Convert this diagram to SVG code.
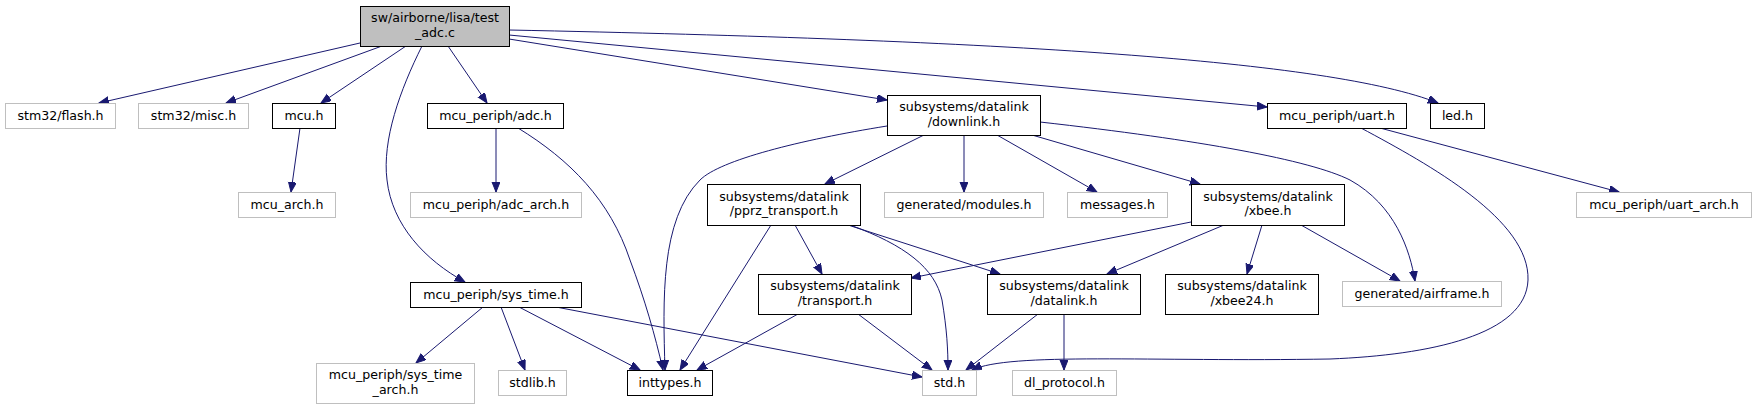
<svg xmlns="http://www.w3.org/2000/svg" width="1757" height="409" viewBox="0 0 1757 409">
<style>
.n rect{fill:#fff;stroke:#000;stroke-width:1}
.n.g rect{stroke:#bfbfbf}
.n.r rect{fill:#bfbfbf}
text{font-family:"DejaVu Sans","Liberation Sans",sans-serif;font-size:12.6px;fill:#000;text-anchor:middle}
#edges path{fill:none;stroke:#191970;stroke-width:1;marker-end:url(#ah)}
</style>
<defs>
<marker id="ah" markerUnits="userSpaceOnUse" markerWidth="11" markerHeight="9" refX="10" refY="4" orient="auto">
<path d="M0,0 L10,4 L0,8 z" fill="#191970" stroke="#191970" stroke-width="1"/>
</marker>
</defs>
<rect width="1757" height="409" fill="#fff"/>
<g id="edges">
<path d="M360,43 L99,103"/>
<path d="M382,46 L226,103"/>
<path d="M406,46 L321,103"/>
<path d="M422,46 C400,90 382,140 387,180 C392,225 425,260 465,282"/>
<path d="M448,46 L487,103"/>
<path d="M509,39 L887,100"/>
<path d="M509,35 L1267,107"/>
<path d="M509,30 C1000,40 1330,60 1438,103"/>
<path d="M300,128 L291,192"/>
<path d="M496,128 L496,192"/>
<path d="M518,128 C570,160 610,200 630,260 C645,300 655,335 663,370"/>
<path d="M924,135 L825,184"/>
<path d="M964,135 L964,192"/>
<path d="M997,135 L1097,192"/>
<path d="M1032,135 L1200,184"/>
<path d="M887,126 C800,140 720,160 700,180 C660,220 663,300 665,370"/>
<path d="M1040,122 C1200,140 1310,160 1350,180 C1395,205 1410,250 1415,281"/>
<path d="M771,225 L680,370"/>
<path d="M795,225 L822,274"/>
<path d="M850,225 C905,245 935,268 942,300 C947,330 948,350 948,370"/>
<path d="M848,225 L1000,274"/>
<path d="M798,314 L697,370"/>
<path d="M858,314 L932,370"/>
<path d="M1038,314 L966,370"/>
<path d="M1064,314 L1064,370"/>
<path d="M1191,222 L911,278"/>
<path d="M1224,225 L1107,274"/>
<path d="M1262,225 L1247,274"/>
<path d="M1301,225 L1400,281"/>
<path d="M1380,128 L1619,192"/>
<path d="M1361,128 C1430,165 1530,220 1528,280 C1526,335 1430,355 1330,359 C1150,362 1010,352 972,370"/>
<path d="M483,307 L416,363"/>
<path d="M501,307 L525,370"/>
<path d="M519,307 L640,370"/>
<path d="M556,307 L922,377"/>
</g>
<g id="root" class="n r"><rect x="360.5" y="6.5" width="149" height="40"/><text x="435" y="22">sw/airborne/lisa/test</text><text x="435" y="37">_adc.c</text></g>
<g id="flash" class="n g"><rect x="5.5" y="103.5" width="110" height="25"/><text x="60.5" y="120">stm32/flash.h</text></g>
<g id="misc" class="n g"><rect x="138.5" y="103.5" width="110" height="25"/><text x="193.5" y="120">stm32/misc.h</text></g>
<g id="mcu" class="n"><rect x="272.5" y="103.5" width="63" height="25"/><text x="304" y="120">mcu.h</text></g>
<g id="adc" class="n"><rect x="427.5" y="103.5" width="136" height="25"/><text x="495.5" y="120">mcu_periph/adc.h</text></g>
<g id="downlink" class="n"><rect x="887.5" y="95.5" width="153" height="40"/><text x="964" y="111">subsystems/datalink</text><text x="964" y="126">/downlink.h</text></g>
<g id="uart" class="n"><rect x="1267.5" y="103.5" width="139" height="25"/><text x="1337" y="120">mcu_periph/uart.h</text></g>
<g id="led" class="n"><rect x="1430.5" y="103.5" width="54" height="25"/><text x="1457.5" y="120">led.h</text></g>
<g id="mcu_arch" class="n g"><rect x="238.5" y="192.5" width="97" height="25"/><text x="287" y="209">mcu_arch.h</text></g>
<g id="adc_arch" class="n g"><rect x="410.5" y="192.5" width="171" height="25"/><text x="496" y="209">mcu_periph/adc_arch.h</text></g>
<g id="pprz_transport" class="n"><rect x="707.5" y="184.5" width="153" height="41"/><text x="784" y="201">subsystems/datalink</text><text x="784" y="215">/pprz_transport.h</text></g>
<g id="modules" class="n g"><rect x="884.5" y="192.5" width="159" height="25"/><text x="964" y="209">generated/modules.h</text></g>
<g id="messages" class="n g"><rect x="1067.5" y="192.5" width="100" height="25"/><text x="1117.5" y="209">messages.h</text></g>
<g id="xbee" class="n"><rect x="1191.5" y="184.5" width="153" height="41"/><text x="1268" y="201">subsystems/datalink</text><text x="1268" y="215">/xbee.h</text></g>
<g id="uart_arch" class="n g"><rect x="1576.5" y="192.5" width="175" height="25"/><text x="1664" y="209">mcu_periph/uart_arch.h</text></g>
<g id="sys_time" class="n"><rect x="410.5" y="282.5" width="171" height="25"/><text x="496" y="299">mcu_periph/sys_time.h</text></g>
<g id="transport" class="n"><rect x="758.5" y="274.5" width="153" height="40"/><text x="835" y="290">subsystems/datalink</text><text x="835" y="305">/transport.h</text></g>
<g id="datalink" class="n"><rect x="987.5" y="274.5" width="153" height="40"/><text x="1064" y="290">subsystems/datalink</text><text x="1064" y="305">/datalink.h</text></g>
<g id="xbee24" class="n"><rect x="1165.5" y="274.5" width="153" height="40"/><text x="1242" y="290">subsystems/datalink</text><text x="1242" y="305">/xbee24.h</text></g>
<g id="airframe" class="n g"><rect x="1342.5" y="281.5" width="159" height="25"/><text x="1422" y="298">generated/airframe.h</text></g>
<g id="sys_time_arch" class="n g"><rect x="316.5" y="363.5" width="158" height="40"/><text x="395.5" y="379">mcu_periph/sys_time</text><text x="395.5" y="394">_arch.h</text></g>
<g id="stdlib" class="n g"><rect x="498.5" y="370.5" width="68" height="25"/><text x="532.5" y="387">stdlib.h</text></g>
<g id="inttypes" class="n"><rect x="627.5" y="370.5" width="85" height="25"/><text x="670" y="387">inttypes.h</text></g>
<g id="std" class="n g"><rect x="922.5" y="370.5" width="54" height="25"/><text x="949.5" y="387">std.h</text></g>
<g id="dl_protocol" class="n g"><rect x="1012.5" y="370.5" width="104" height="25"/><text x="1064.5" y="387">dl_protocol.h</text></g>
</svg>
